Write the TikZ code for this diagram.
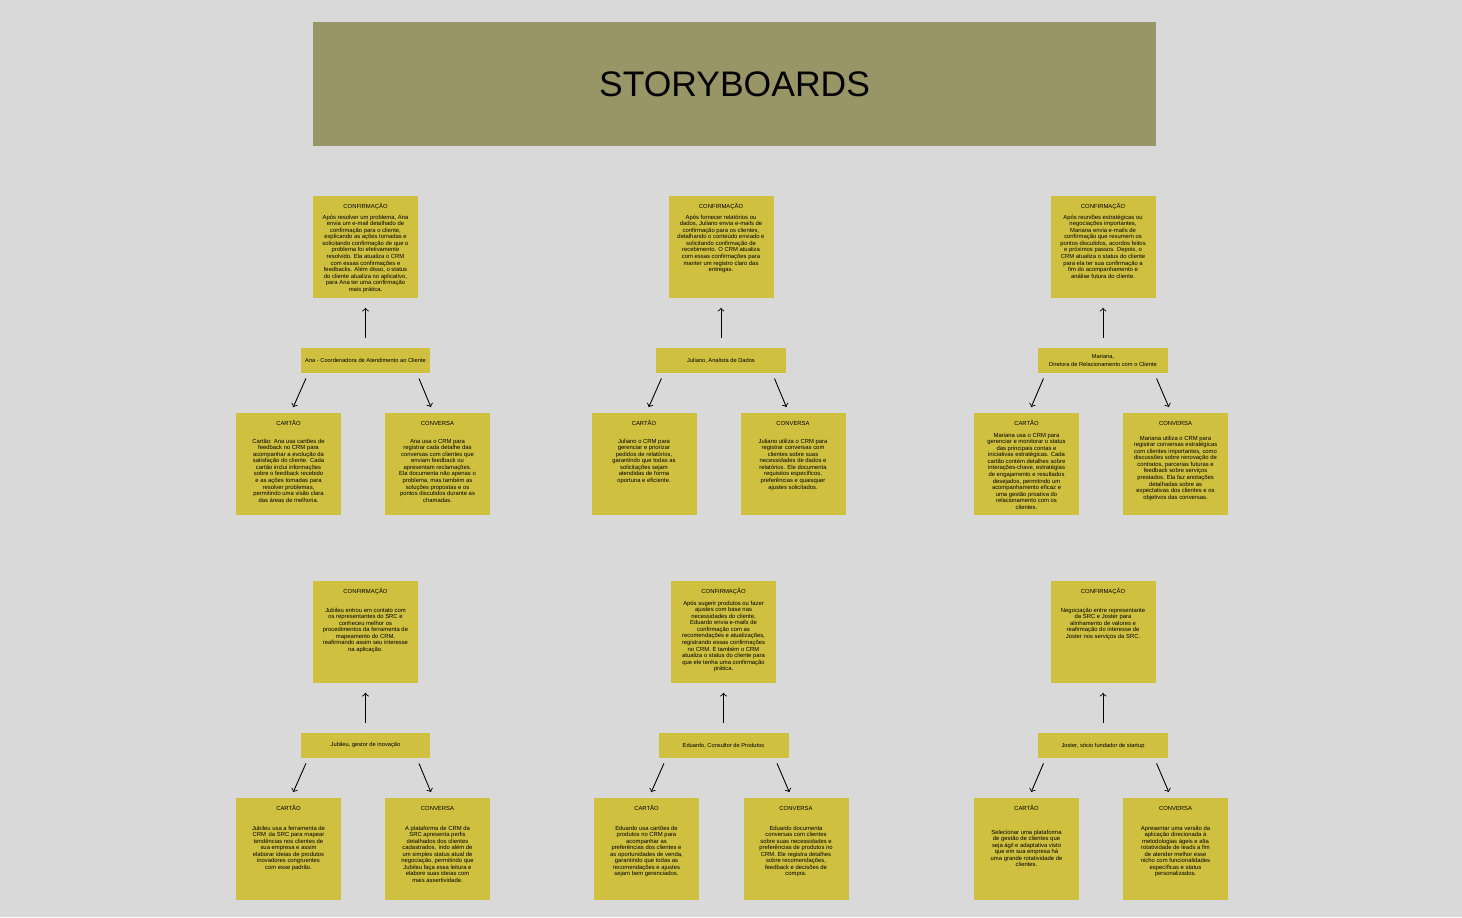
\documentclass[tikz,border=0pt]{standalone}
\usepackage{fontspec}
\setmainfont{Liberation Sans}
\usetikzlibrary{positioning}
\definecolor{bggray}{HTML}{D9D9D9}
\definecolor{bannercol}{HTML}{989666}
\definecolor{notecol}{HTML}{CFC03F}
\newcommand\notefont{\fontsize{3.35}{3.73}\selectfont\lineskiplimit=-5pt\relax}
\newcommand\hdr[1]{\vphantom{ÃÇ}#1}
\tikzset{
  banner/.style={fill=bannercol, minimum width=16.86cm, minimum height=2.48cm, inner sep=0pt, font=\fontsize{20.2}{24}\selectfont},
  note/.style={fill=notecol, minimum width=2.1cm, minimum height=2.04cm, inner sep=0pt},
  notetext/.style={align=center, inner sep=0pt, font=\notefont},
  person/.style={fill=notecol, minimum width=2.6cm, minimum height=0.5cm, inner sep=0pt, align=center, font=\fontsize{3.25}{4.3}\selectfont},
  arr/.style={->, line width=0.5pt, shorten >=0.11cm, shorten <=0.11cm},
  uparr/.style={->, line width=0.5pt, shorten >=0.2cm, shorten <=0.2cm}
}
\begin{document}
\begin{tikzpicture}[x=0.02cm, y=-0.02cm]
  \fill[bggray] (0,0) rectangle (1462,917);
  \node[banner] (title) at (734.5,84) {STORYBOARDS};

  % Ana
  \node[note] (anaconf) at (365.5,246.5) {};
  \node[person] (ana) at (365.5,360.5) {Ana - Coordenadora de Atendimento ao Cliente};
  \node[note] (anacard) at (288.5,463.5) {};
  \node[note] (anachat) at (437.5,463.5) {};
  \node[notetext, below=0.15cm of anaconf.north] {\hdr{CONFIRMAÇÃO}\\[2.5pt]
    Após resolver um problema, Ana\\ envia um e-mail detalhado de\\ confirmação para o cliente,\\
    explicando as ações tomadas e\\ solicitando confirmação de que o\\ problema foi efetivamente\\
    resolvido. Ela atualiza o CRM\\ com essas confirmações e\\ feedbacks. Além disso, o status\\
    do cliente atualiza no aplicativo,\\ para Ana ter uma confirmação\\ mais prática.};
  \node[notetext, below=0.15cm of anacard.north] {\hdr{CARTÃO}\\[6.5pt]
    Cartão: Ana usa cartões de\\ feedback no CRM para\\ acompanhar a evolução da\\
    satisfação do cliente. Cada\\ cartão inclui informações\\ sobre o feedback recebido\\
    e as ações tomadas para\\ resolver problemas,\\ permitindo uma visão clara\\ das áreas de melhoria.};
  \node[notetext, below=0.15cm of anachat.north] {\hdr{CONVERSA}\\[6.5pt]
    Ana usa o CRM para\\ registrar cada detalhe das\\ conversas com clientes que\\
    enviam feedback ou\\ apresentam reclamações.\\ Ela documenta não apenas o\\
    problema, mas também as\\ soluções propostas e os\\ pontos discutidos durante as\\ chamadas.};
  \draw[uparr] (ana) -- (anaconf);
  \draw[arr] ([xshift=0.16cm]ana.south west) -- ([xshift=0.05cm]anacard.north);
  \draw[arr] ([xshift=-0.28cm]ana.south east) -- ([xshift=-0.09cm]anachat.north);

  % Juliano
  \node[note] (juliconf) at (721,246.5) {};
  \node[person] (juli) at (721,360.5) {Juliano, Analista de Dados};
  \node[note] (julicard) at (644,463.5) {};
  \node[note] (julichat) at (793,463.5) {};
  \node[notetext, below=0.15cm of juliconf.north] {\hdr{CONFIRMAÇÃO}\\[2.5pt]
    Após fornecer relatórios ou\\ dados, Juliano envia e-mails de\\ confirmação para os clientes,\\
    detalhando o conteúdo enviado e\\ solicitando confirmação de\\ recebimento. O CRM atualiza\\
    com essas confirmações para\\ manter um registro claro das\\ entregas.};
  \node[notetext, below=0.15cm of julicard.north] {\hdr{CARTÃO}\\[6.5pt]
    Juliano o CRM para\\ gerenciar e priorizar\\ pedidos de relatórios,\\
    garantindo que todas as\\ solicitações sejam\\ atendidas de forma\\ oportuna e eficiente.};
  \node[notetext, below=0.15cm of julichat.north] {\hdr{CONVERSA}\\[6.5pt]
    Juliano utiliza o CRM para\\ registrar conversas com\\ clientes sobre suas\\
    necessidades de dados e\\ relatórios. Ele documenta\\ requisitos específicos,\\
    preferências e quaisquer\\ ajustes solicitados.};
  \draw[uparr] (juli) -- (juliconf);
  \draw[arr] ([xshift=0.16cm]juli.south west) -- ([xshift=0.05cm]julicard.north);
  \draw[arr] ([xshift=-0.28cm]juli.south east) -- ([xshift=-0.09cm]julichat.north);

  % Mariana
  \node[note] (mariconf) at (1103,246.5) {};
  \node[person] (mari) at (1103,360.5) {Mariana,\\ Diretora de Relacionamento com o Cliente};
  \node[note] (maricard) at (1026.5,463.5) {};
  \node[note] (marichat) at (1175.5,463.5) {};
  \node[notetext, below=0.15cm of mariconf.north] {\hdr{CONFIRMAÇÃO}\\[2.5pt]
    Após reuniões estratégicas ou\\ negociações importantes,\\ Mariana envia e-mails de\\
    confirmação que resumem os\\ pontos discutidos, acordos feitos\\ e próximos passos. Depois, o\\
    CRM atualiza o status do cliente\\ para ela ter sua confirmação a\\ fim do acompanhamento e\\
    análise futura do cliente.};
  \node[notetext, below=0.15cm of maricard.north] {\hdr{CARTÃO}\\[3.1pt]
    Mariana usa o CRM para\\ gerenciar e monitorar o status\\ das principais contas e\\
    iniciativas estratégicas. Cada\\ cartão contém detalhes sobre\\ interações-chave, estratégias\\
    de engajamento e resultados\\ desejados, permitindo um\\ acompanhamento eficaz e\\
    uma gestão proativa do\\ relacionamento com os\\ clientes.};
  \node[notetext, below=0.15cm of marichat.north] {\hdr{CONVERSA}\\[4.8pt]
    Mariana utiliza o CRM para\\ registrar conversas estratégicas\\ com clientes importantes, como\\
    discussões sobre renovação de\\ contratos, parcerias futuras e\\ feedback sobre serviços\\
    prestados. Ela faz anotações\\ detalhadas sobre as\\ expectativas dos clientes e os\\
    objetivos das conversas.};
  \draw[uparr] (mari) -- (mariconf);
  \draw[arr] ([xshift=0.16cm]mari.south west) -- ([xshift=0.05cm]maricard.north);
  \draw[arr] ([xshift=-0.28cm]mari.south east) -- ([xshift=-0.09cm]marichat.north);

  % Jubileu
  \node[note] (jubiconf) at (365.5,631.5) {};
  \node[person] (jubi) at (365.5,745.5) {Jubileu, gestor de inovação};
  \node[note] (jubicard) at (288.5,848.5) {};
  \node[note] (jubichat) at (437.5,848.5) {};
  \node[notetext, below=0.15cm of jubiconf.north] {\hdr{CONFIRMAÇÃO}\\[7.1pt]
    Jubileu entrou em contato com\\ os representantes do SRC e\\ conheceu melhor os\\
    procedimentos da ferramenta de\\ mapeamento do CRM,\\ reafirmando assim seu interesse\\
    na aplicação.};
  \node[notetext, below=0.15cm of jubicard.north] {\hdr{CARTÃO}\\[7.6pt]
    Jubileu usa a ferramenta de\\ CRM\, da SRC para mapear\\ tendências nos clientes de\\
    sua empresa e assim\\ elaborar ideias de produtos\\ inovadores congruentes\\ com esse padrão.};
  \node[notetext, below=0.15cm of jubichat.north] {\hdr{CONVERSA}\\[7.6pt]
    A plataforma de CRM da\\ SRC apresenta perfis\\ detalhados dos clientes\\
    cadastrados,\, indo além de\\ um simples status atual de\\ negociação, permitindo que\\
    Jubileu faça essa leitura e\\ elabore suas ideias com\\ mais assertividade.};
  \draw[uparr] (jubi) -- (jubiconf);
  \draw[arr] ([xshift=0.16cm]jubi.south west) -- ([xshift=0.05cm]jubicard.north);
  \draw[arr] ([xshift=-0.28cm]jubi.south east) -- ([xshift=-0.09cm]jubichat.north);

  % Eduardo
  \node[note] (educonf) at (723.5,631.5) {};
  \node[person] (edu) at (723.5,745.5) {Eduardo, Consultor de Produtos};
  \node[note] (educard) at (646.5,848.5) {};
  \node[note] (educhat) at (796,848.5) {};
  \node[notetext, below=0.15cm of educonf.north] {\hdr{CONFIRMAÇÃO}\\[3.1pt]
    Após sugerir produtos ou fazer\\ ajustes com base nas\\ necessidades do cliente,\\
    Eduardo envia e-mails de\\ confirmação com as\\ recomendações e atualizações,\\
    registrando essas confirmações\\ no CRM. E também o CRM\\ atualiza o status do cliente para\\
    que ele tenha uma confirmação\\ prática.};
  \node[notetext, below=0.15cm of educard.north] {\hdr{CARTÃO}\\[7.6pt]
    Eduardo usa cartões de\\ produtos no CRM para\\ acompanhar as\\
    preferências dos clientes e\\ as oportunidades de venda,\\ garantindo que todas as\\
    recomendações e ajustes\\ sejam bem gerenciados.};
  \node[notetext, below=0.15cm of educhat.north] {\hdr{CONVERSA}\\[7.6pt]
    Eduardo documenta\\ conversas com clientes\\ sobre suas necessidades e\\
    preferências de produtos no\\ CRM. Ele registra detalhes\\ sobre recomendações,\\
    feedback e decisões de\\ compra.};
  \draw[uparr] (edu) -- (educonf);
  \draw[arr] ([xshift=0.16cm]edu.south west) -- ([xshift=0.05cm]educard.north);
  \draw[arr] ([xshift=-0.28cm]edu.south east) -- ([xshift=-0.09cm]educhat.north);

  % Joster
  \node[note] (josconf) at (1103,631.5) {};
  \node[person] (jos) at (1103,745.5) {Joster, sócio fundador de startup};
  \node[note] (joscard) at (1026.5,848.5) {};
  \node[note] (joschat) at (1175.5,848.5) {};
  \node[notetext, below=0.15cm of josconf.north] {\hdr{CONFIRMAÇÃO}\\[7.1pt]
    Negociação entre representante\\ da SRC e Joster para\\ alinhamento de valores e\\
    reafirmação do interesse de\\ Joster nos serviços da SRC.};
  \node[notetext, below=0.15cm of joscard.north] {\hdr{CARTÃO}\\[9.9pt]
    Selecionar uma plataforma\\ de gestão de clientes que\\ seja ágil e adaptativa visto\\
    que em sua empresa há\\ uma grande rotatividade de\\ clientes.};
  \node[notetext, below=0.15cm of joschat.north] {\hdr{CONVERSA}\\[7.6pt]
    Apresentar uma versão da\\ aplicação direcionada à\\ metodologias ágeis e alta\\
    rotatividade de leads a fim\\ de atender melhor esse\\ nicho com funcionalidades\\
    específicas e status\\ personalizados.};
  \draw[uparr] (jos) -- (josconf);
  \draw[arr] ([xshift=0.16cm]jos.south west) -- ([xshift=0.05cm]joscard.north);
  \draw[arr] ([xshift=-0.28cm]jos.south east) -- ([xshift=-0.09cm]joschat.north);
\end{tikzpicture}
\end{document}
